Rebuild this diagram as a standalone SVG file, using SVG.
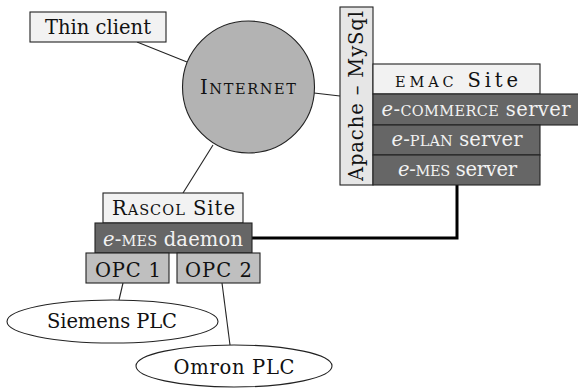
<svg xmlns="http://www.w3.org/2000/svg" width="578" height="388" viewBox="0 0 578 388">
<style>
text{font-family:"DejaVu Serif","Liberation Serif",serif;font-size:19.5px;fill:#111;text-anchor:middle}
.lt{fill:#f2f2f2;stroke:#222;stroke-width:1.1}
.ap{fill:#e6e6e6;stroke:#222;stroke-width:1.1}
.dk{fill:#666;stroke:#222;stroke-width:1.1}
.opc{fill:#bfbfbf;stroke:#222;stroke-width:1.1}
.el{fill:#fff;stroke:#222;stroke-width:1.1}
.w{fill:#f2f2f2}
.sc{font-size:14.5px}
.it{font-style:italic}
.c{stroke:#222;stroke-width:1.1;fill:none}
.thick{stroke:#000;stroke-width:3;fill:none}
</style>
<g id="connectors">
<line class="c" x1="137" y1="42" x2="187" y2="62"/>
<line class="c" x1="314" y1="93" x2="340" y2="96"/>
<line class="c" x1="213" y1="145" x2="183" y2="193"/>
<line class="c" x1="123" y1="283" x2="119" y2="300"/>
<line class="c" x1="222" y1="283" x2="230" y2="345"/>
<polyline class="thick" points="457,185 457,238 252,238"/>
</g>
<g id="thin-client">
<rect class="lt" x="30" y="12" width="136" height="30"/>
<text x="98" y="34" textLength="106">Thin client</text>
</g>
<g id="internet">
<circle cx="248.5" cy="87" r="66" fill="#b3b3b3" stroke="#222" stroke-width="1.1"/>
<text x="248" y="94" textLength="96">I<tspan class="sc">NTERNET</tspan></text>
</g>
<g id="apache-mysql">
<rect class="ap" x="340" y="7" width="33" height="178"/>
<text transform="translate(363,96) rotate(-90)" textLength="170">Apache – MySql</text>
</g>
<g id="emac-site">
<rect class="lt" x="373" y="64" width="167" height="30"/>
<text x="456.5" y="87" textLength="123"><tspan class="sc">EMAC</tspan> Site</text>
</g>
<g id="ecommerce-server">
<rect class="dk" x="373" y="94" width="206" height="31"/>
<text class="w" x="476" y="116" textLength="189"><tspan class="it">e</tspan>-<tspan class="sc">COMMERCE</tspan> server</text>
</g>
<g id="eplan-server">
<rect class="dk" x="373" y="125" width="167" height="30"/>
<text class="w" x="457" y="146" textLength="131"><tspan class="it">e</tspan>-<tspan class="sc">PLAN</tspan> server</text>
</g>
<g id="emes-server">
<rect class="dk" x="373" y="155" width="167" height="30"/>
<text class="w" x="457.5" y="176" textLength="119"><tspan class="it">e</tspan>-<tspan class="sc">MES</tspan> server</text>
</g>
<g id="rascol-site">
<rect class="lt" x="103" y="193" width="140" height="30"/>
<text x="173.5" y="215" textLength="123">R<tspan class="sc">ASCOL</tspan> Site</text>
</g>
<g id="emes-daemon">
<rect class="dk" x="95" y="223" width="157" height="30"/>
<text class="w" x="173" y="246" textLength="140"><tspan class="it">e</tspan>-<tspan class="sc">MES</tspan> daemon</text>
</g>
<g id="opc1">
<rect class="opc" x="86" y="253" width="83" height="30"/>
<text x="128" y="277" textLength="66">OPC 1</text>
</g>
<g id="opc2">
<rect class="opc" x="177" y="253" width="83" height="30"/>
<text x="218.5" y="277" textLength="67">OPC 2</text>
</g>
<g id="siemens-plc">
<ellipse class="el" cx="112.5" cy="321.5" rx="105.5" ry="21.5"/>
<text x="112" y="328" textLength="130">Siemens PLC</text>
</g>
<g id="omron-plc">
<ellipse class="el" cx="234" cy="366" rx="98" ry="21"/>
<text x="234" y="374" textLength="121">Omron PLC</text>
</g>
</svg>
